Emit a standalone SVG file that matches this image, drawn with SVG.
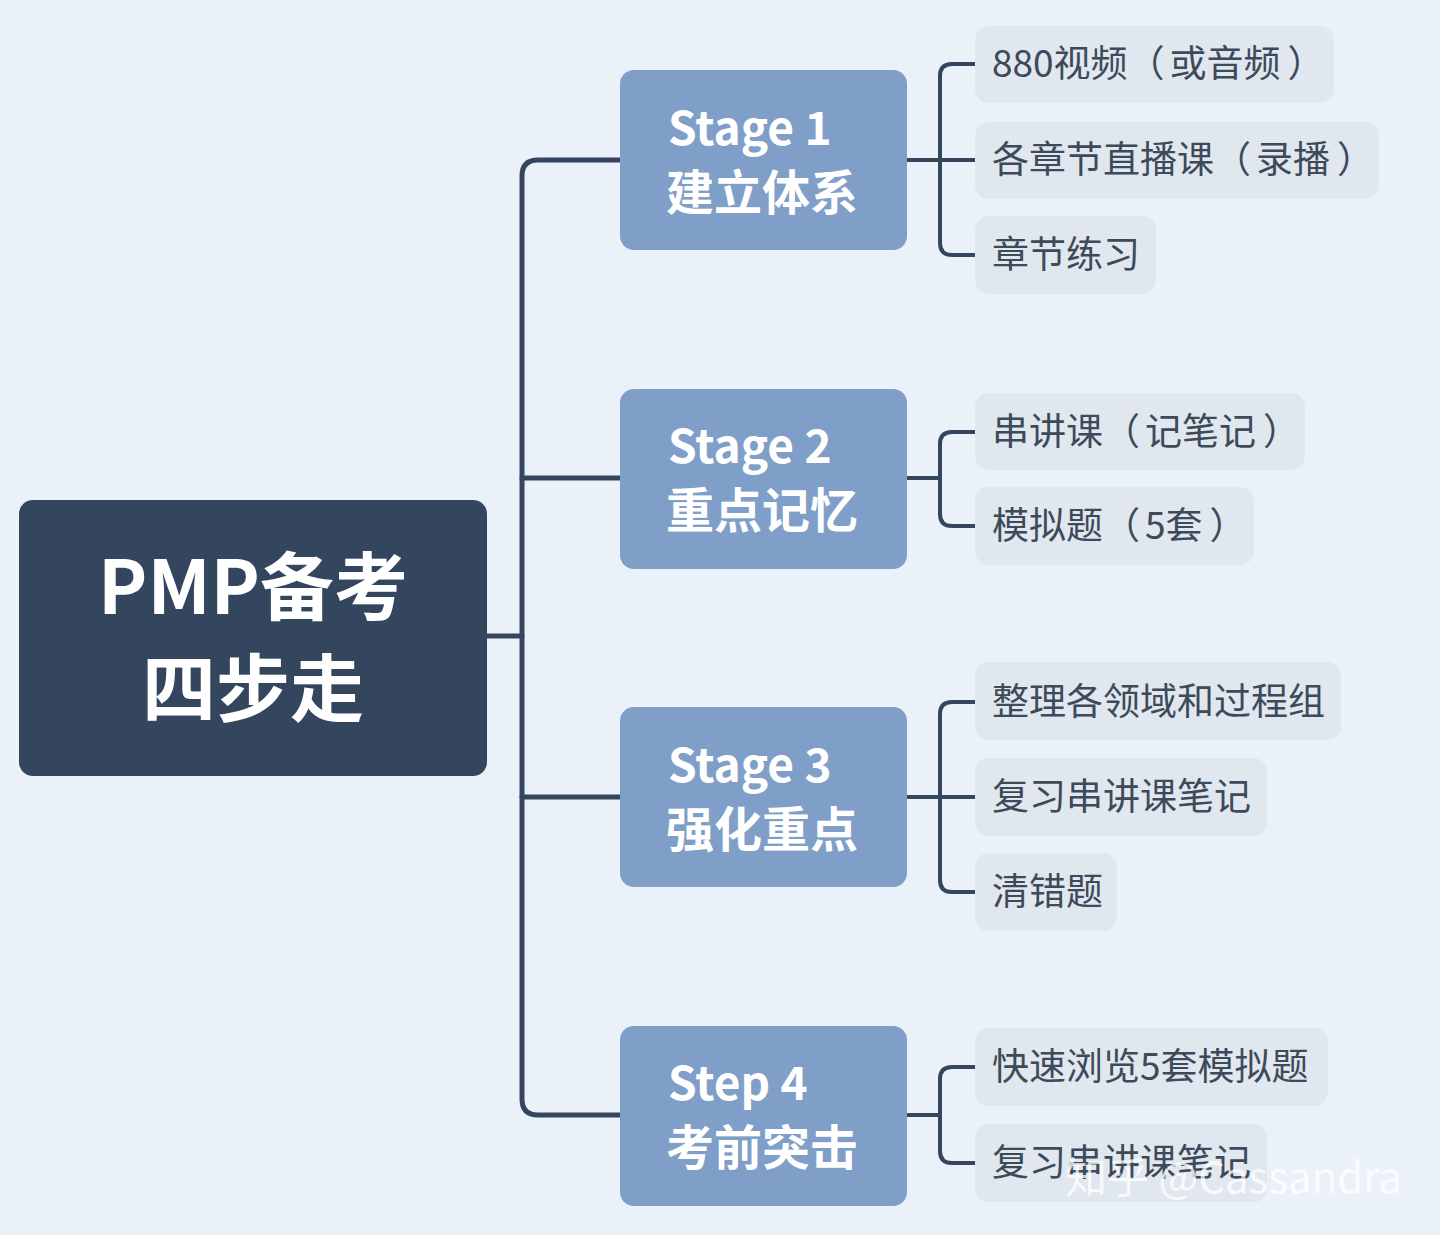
<svg xmlns="http://www.w3.org/2000/svg" width="1440" height="1235" viewBox="0 0 1440 1235">
<style>
.conn{fill:none;stroke:#34465e;stroke-width:5;stroke-linecap:round;stroke-linejoin:round}
.br{fill:none;stroke:#34465e;stroke-width:4;stroke-linecap:butt}
.stage{fill:#7f9fc8}
.leaf{fill:#e1e7ee}
.st{font-family:"Noto Sans CJK SC","Noto Sans",sans-serif;font-weight:700;fill:#ffffff;font-size:46px}
.sc{font-size:48px}
.lt{font-family:"Noto Sans CJK SC","Noto Sans",sans-serif;font-weight:400;fill:#3d4a5a;font-size:37px}
.rt{font-family:"Noto Sans CJK SC","Noto Sans",sans-serif;font-weight:700;fill:#ffffff;font-size:74px}
</style>
<rect width="1440" height="1235" fill="#ebf1f8"/>
<g id="connectors">
<path class="conn" d="M487 636 H522"/>
<path class="conn" d="M620 160 H538 Q522 160 522 176 V1099 Q522 1115 538 1115 H620"/>
<path class="conn" d="M522 478 H620"/>
<path class="conn" d="M522 797 H620"/>
<path class="br" d="M907 160 H975 M975 64 H952 Q940 64 940 76 V243 Q940 255 952 255 H975"/>
<path class="br" d="M907 478 H940 M975 432 H952 Q940 432 940 444 V514 Q940 526 952 526 H975"/>
<path class="br" d="M907 797 H975 M975 702 H952 Q940 702 940 714 V880 Q940 892 952 892 H975"/>
<path class="br" d="M907 1115 H940 M975 1067 H952 Q940 1067 940 1079 V1151 Q940 1163 952 1163 H975"/>
</g>
<g id="root">
<rect x="19" y="500" width="468" height="276" rx="14" fill="#34465e"/>
<text class="rt" x="253" y="614" text-anchor="middle">PMP备考</text>
<text class="rt" x="253" y="716" text-anchor="middle">四步走</text>
</g>
<g id="stage1">
<rect class="stage" x="620" y="70" width="287" height="180" rx="14"/>
<text class="st" x="668" y="145">Stage 1</text>
<text class="st sc" x="666" y="210">建立体系</text>
</g>
<g id="stage2">
<rect class="stage" x="620" y="389" width="287" height="180" rx="14"/>
<text class="st" x="668" y="463">Stage 2</text>
<text class="st sc" x="666" y="528">重点记忆</text>
</g>
<g id="stage3">
<rect class="stage" x="620" y="707" width="287" height="180" rx="14"/>
<text class="st" x="668" y="782">Stage 3</text>
<text class="st sc" x="666" y="847">强化重点</text>
</g>
<g id="stage4">
<rect class="stage" x="620" y="1026" width="287" height="180" rx="14"/>
<text class="st" x="668" y="1100">Step 4</text>
<text class="st sc" x="666" y="1165">考前突击</text>
</g>
<g id="leaf1a"><rect class="leaf" x="975" y="26" width="359" height="77" rx="14"/><text class="lt" x="992" y="77">880视频（<tspan dx="5">或音频</tspan><tspan dx="7">）</tspan></text></g>
<g id="leaf1b"><rect class="leaf" x="975" y="122" width="404" height="77" rx="14"/><text class="lt" x="992" y="173">各章节直播课（<tspan dx="5">录播</tspan><tspan dx="7">）</tspan></text></g>
<g id="leaf1c"><rect class="leaf" x="975" y="216" width="181" height="78" rx="14"/><text class="lt" x="992" y="268">章节练习</text></g>
<g id="leaf2a"><rect class="leaf" x="975" y="393" width="330" height="77" rx="14"/><text class="lt" x="992" y="445">串讲课（<tspan dx="5">记笔记</tspan><tspan dx="7">）</tspan></text></g>
<g id="leaf2b"><rect class="leaf" x="975" y="487" width="279" height="78" rx="14"/><text class="lt" x="992" y="539">模拟题（<tspan dx="5">5套</tspan><tspan dx="7">）</tspan></text></g>
<g id="leaf3a"><rect class="leaf" x="975" y="662" width="366" height="78" rx="14"/><text class="lt" x="992" y="715">整理各领域和过程组</text></g>
<g id="leaf3b"><rect class="leaf" x="975" y="758" width="292" height="78" rx="14"/><text class="lt" x="992" y="810">复习串讲课笔记</text></g>
<g id="leaf3c"><rect class="leaf" x="975" y="853" width="142" height="78" rx="14"/><text class="lt" x="992" y="905">清错题</text></g>
<g id="leaf4a"><rect class="leaf" x="975" y="1028" width="353" height="78" rx="14"/><text class="lt" x="992" y="1080">快速浏览5套模拟题</text></g>
<g id="leaf4b"><rect class="leaf" x="975" y="1124" width="292" height="78" rx="14"/><text class="lt" x="992" y="1176">复习串讲课笔记</text></g>
<text x="1065" y="1193" font-family="'Noto Sans CJK SC','Noto Sans',sans-serif" font-size="42" fill="#ffffff" fill-opacity="0.75">知乎 @Cassandra</text>
</svg>
